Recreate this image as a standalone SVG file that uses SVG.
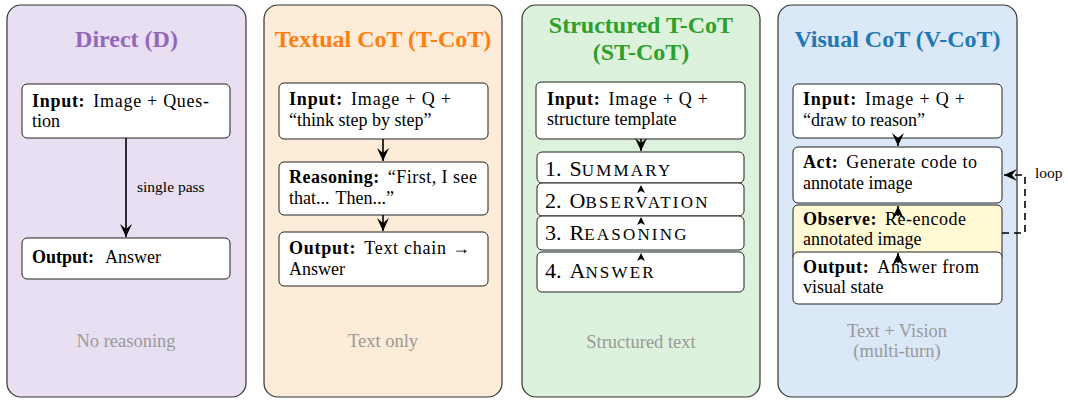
<svg xmlns="http://www.w3.org/2000/svg" width="1068" height="401" viewBox="0 0 1068 401">
<defs>
<style>
text{font-family:"Liberation Serif","Times New Roman",serif;fill:#000}
.panel{stroke:#333;stroke-width:1.2}
.title{font-size:24px;font-weight:bold;text-anchor:middle}
.box{fill:#fff;stroke:#222;stroke-width:1}
.t{font-size:18px}
.b{font-weight:bold}
.cap{font-size:18.5px;fill:#999;text-anchor:middle}
.sm{font-size:15.5px}
.step{font-size:22px}
.sc{font-size:17px;letter-spacing:2.2px}
.conn{stroke:#000;stroke-width:1.6;fill:none}
.dash{stroke:#000;stroke-width:1.6;fill:none;stroke-dasharray:7 5}
.ah{fill:#000}
</style>
<marker id="arr" viewBox="-14 -7 15 14" refX="0" refY="0" markerWidth="15" markerHeight="14" markerUnits="userSpaceOnUse" orient="auto">
<path d="M0,0 L-13,-6 L-8,0 L-13,6 Z" fill="#000"/>
</marker>
</defs>

<g id="panel-direct">
<rect class="panel" x="7" y="5" width="239" height="392" rx="14" fill="#e8e0f2"/>
<text class="title" x="126.5" y="47" style="fill:#9467bd">Direct (D)</text>
<text class="cap" x="126" y="347">No reasoning</text>
</g>
<g id="d-input">
<rect class="box" x="22" y="84" width="208" height="54" rx="5"/>
<text class="t" x="32" y="107" textLength="177" lengthAdjust="spacing"><tspan class="b">Input:</tspan><tspan dx="8">Image + Ques-</tspan></text>
<text class="t" x="32" y="127">tion</text>
</g>
<g id="d-output">
<rect class="box" x="22" y="238" width="208" height="41" rx="5"/>
<text class="t" x="32" y="263"><tspan class="b">Output:</tspan><tspan dx="11">Answer</tspan></text>
</g>

<g id="panel-tcot">
<rect class="panel" x="264" y="5" width="238" height="392" rx="14" fill="#fdecd8"/>
<text class="title" x="383" y="47" style="fill:#ff7f0e">Textual CoT (T-CoT)</text>
<text class="cap" x="383" y="347">Text only</text>
</g>
<g id="t-input">
<rect class="box" x="279" y="83" width="209" height="56" rx="5"/>
<text class="t" x="289" y="105" textLength="162" lengthAdjust="spacing"><tspan class="b">Input:</tspan><tspan dx="8">Image + Q +</tspan></text>
<text class="t" x="289" y="126">“think step by step”</text>
</g>
<g id="t-reasoning">
<rect class="box" x="279" y="162" width="209" height="53" rx="5"/>
<text class="t" x="289" y="183" textLength="188" lengthAdjust="spacing"><tspan class="b">Reasoning:</tspan><tspan dx="8">“First, I see</tspan></text>
<text class="t" x="289" y="204">that...<tspan dx="6">Then...”</tspan></text>
</g>
<g id="t-output">
<rect class="box" x="279" y="232" width="209" height="54" rx="5"/>
<text class="t" x="289" y="254" textLength="181" lengthAdjust="spacing"><tspan class="b">Output:</tspan><tspan dx="8">Text chain →</tspan></text>
<text class="t" x="289" y="275">Answer</text>
</g>

<g id="panel-stcot">
<rect class="panel" x="522" y="5" width="238" height="392" rx="14" fill="#dcf2dc"/>
<text class="title" x="641" y="33" style="fill:#2ca02c">Structured T-CoT</text>
<text class="title" x="641" y="60" style="fill:#2ca02c">(ST-CoT)</text>
<text class="cap" x="641" y="348">Structured text</text>
</g>
<g id="s-input">
<rect class="box" x="536" y="82" width="209" height="57" rx="5"/>
<text class="t" x="547" y="105" textLength="161" lengthAdjust="spacing"><tspan class="b">Input:</tspan><tspan dx="8">Image + Q +</tspan></text>
<text class="t" x="547" y="125">structure template</text>
</g>
<g id="s-step1">
<rect class="box" x="537" y="152" width="207" height="31" rx="5"/>
<text class="step" x="545" y="176">1.<tspan dx="8">S</tspan><tspan class="sc">UMMARY</tspan></text>
</g>
<g id="s-step2">
<rect class="box" x="537" y="183" width="207" height="33" rx="5"/>
<text class="step" x="545" y="208">2.<tspan dx="8">O</tspan><tspan class="sc">BSERVATION</tspan></text>
</g>
<g id="s-step3">
<rect class="box" x="537" y="216" width="207" height="34" rx="5"/>
<text class="step" x="545" y="240">3.<tspan dx="8">R</tspan><tspan class="sc">EASONING</tspan></text>
</g>
<g id="s-step4">
<rect class="box" x="537" y="252" width="207" height="40" rx="5"/>
<text class="step" x="545" y="278">4.<tspan dx="8">A</tspan><tspan class="sc">NSWER</tspan></text>
</g>

<g id="panel-vcot">
<rect class="panel" x="778" y="5" width="239" height="392" rx="14" fill="#dae8f7"/>
<text class="title" x="897.5" y="47" style="fill:#1f77b4">Visual CoT (V-CoT)</text>
<text class="cap" x="897" y="337">Text + Vision</text>
<text class="cap" x="897" y="357">(multi-turn)</text>
</g>
<g id="v-input">
<rect class="box" x="793" y="84" width="209" height="54" rx="5"/>
<text class="t" x="803" y="105" textLength="162" lengthAdjust="spacing"><tspan class="b">Input:</tspan><tspan dx="8">Image + Q +</tspan></text>
<text class="t" x="803" y="126">“draw to reason”</text>
</g>
<g id="v-act">
<rect class="box" x="793" y="147" width="209" height="56" rx="5"/>
<text class="t" x="803" y="168" textLength="174" lengthAdjust="spacing"><tspan class="b">Act:</tspan><tspan dx="8">Generate code to</tspan></text>
<text class="t" x="803" y="189">annotate image</text>
</g>
<g id="v-observe">
<rect class="box" x="793" y="205" width="209" height="56" rx="5" style="fill:#fff9d4"/>
<text class="t" x="803" y="225" textLength="163" lengthAdjust="spacing"><tspan class="b">Observe:</tspan><tspan dx="8">Re-encode</tspan></text>
<text class="t" x="803" y="245">annotated image</text>
</g>
<g id="v-output">
<rect class="box" x="793" y="252" width="209" height="52" rx="5"/>
<text class="t" x="803" y="273" textLength="176" lengthAdjust="spacing"><tspan class="b">Output:</tspan><tspan dx="8">Answer from</tspan></text>
<text class="t" x="803" y="293">visual state</text>
</g>

<g id="connectors">
<line class="conn" x1="126" y1="138" x2="126" y2="237" marker-end="url(#arr)"/>
<text class="sm" x="137" y="192">single pass</text>
<line class="conn" x1="383" y1="139" x2="383" y2="161" marker-end="url(#arr)"/>
<line class="conn" x1="383" y1="215" x2="383" y2="231" marker-end="url(#arr)"/>
<line class="conn" x1="641" y1="139" x2="641" y2="151" marker-end="url(#arr)"/>
<path class="ah" d="M641,185 L645,193 L641,191 L637,193 Z"/>
<path class="ah" d="M641,217 L645,225 L641,223 L637,225 Z"/>
<path class="ah" d="M641,253 L645,261 L641,259 L637,261 Z"/>
<line class="conn" x1="898" y1="138" x2="898" y2="146" marker-end="url(#arr)"/>
<line class="conn" x1="898" y1="216" x2="898" y2="206" marker-end="url(#arr)"/>
<line class="conn" x1="898" y1="263" x2="898" y2="253" marker-end="url(#arr)"/>
<path class="dash" d="M1002,233 H1025 V175 H1004" marker-end="url(#arr)"/>
<text class="sm" x="1035" y="178">loop</text>
</g>
</svg>
